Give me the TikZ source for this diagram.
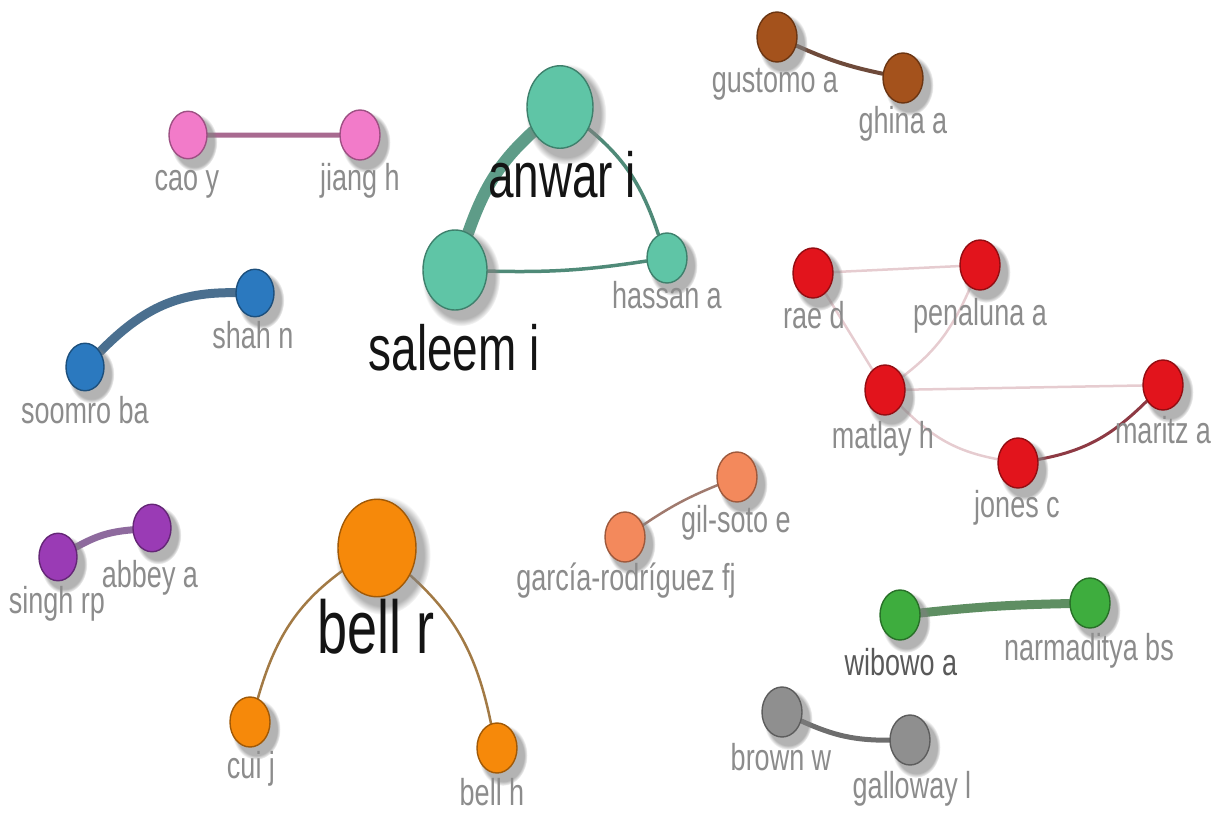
\documentclass[tikz,border=0pt]{standalone}
\usepackage{fontspec}
\setmainfont{Liberation Sans}
\usetikzlibrary{shadows, backgrounds}

\definecolor{cafe}{HTML}{A4521C}
\definecolor{rosa}{HTML}{F27BC9}
\definecolor{verdeagua}{HTML}{5FC5A6}
\definecolor{azul}{HTML}{2B79BF}
\definecolor{morado}{HTML}{9A3BB5}
\definecolor{rojo}{HTML}{E2141C}
\definecolor{salmon}{HTML}{F3895C}
\definecolor{naranja}{HTML}{F6890A}
\definecolor{verde}{HTML}{3EAD3E}
\definecolor{gris}{HTML}{8F8F8F}
\definecolor{textogris}{HTML}{8C8C8C}
% colores de enlaces
\definecolor{e-verdeagua}{HTML}{5E9C88}
\definecolor{e-verdeagua2}{HTML}{4F8A78}
\definecolor{e-rosa}{HTML}{A86A90}
\definecolor{e-azul}{HTML}{4A6F8F}
\definecolor{e-morado}{HTML}{8E6A9E}
\definecolor{e-cafe}{HTML}{6E4A3A}
\definecolor{e-rojoclaro}{HTML}{E6CCD0}
\definecolor{e-rojo}{HTML}{8E3A44}
\definecolor{e-salmon}{HTML}{A07A6E}
\definecolor{e-naranja}{HTML}{A27A45}
\definecolor{e-verde}{HTML}{5E8E62}
\definecolor{e-gris}{HTML}{6E6E6E}

\begin{document}
\begin{tikzpicture}[x=1pt, y=-0.8pt, yscale=1.25,
    autor/.style n args={2}{circle, transform shape, fill=#1, draw=#1!65!black,
        line width=1.4pt, inner sep=0pt, minimum size=#2,
        circular drop shadow={shadow xshift=5pt, shadow yshift=-6pt, shadow scale=1.22, opacity=0.6}},
    etiqueta/.style={transform shape, xscale=0.9, anchor=base, inner sep=0pt,
        text=textogris, font=\fontsize{30}{36}\selectfont},
    etiquetagrande/.style={etiqueta, text=black!92, font=\fontsize{51}{60}\selectfont},
    enlace/.style n args={2}{line width=#1, draw=#2, line cap=round}]
    \useasboundingbox (0,0) rectangle (1220,812);

    % Nodos
    \foreach \n/\x/\y/\c/\r in {gustomo/777/37/cafe/40, ghina/903/78/cafe/40,
        cao/188/135/rosa/38, jiang/360/135/rosa/40,
        anwar/560/107/verdeagua/66, saleem/455/270/verdeagua/64, hassan/667/258/verdeagua/40,
        shah/255/293/azul/38, soomro/85/367/azul/38,
        singh/58/557/morado/38, abbey/152/528/morado/38,
        rae/813/273/rojo/40, penaluna/980/265/rojo/40, matlay/885/390/rojo/40,
        maritz/1163/385/rojo/40, jones/1018/463/rojo/40,
        gilsoto/737/477/salmon/40, garcia/625/537/salmon/40,
        bellr/377/548/naranja/78, cui/250/722/naranja/40, bellh/497/748/naranja/40,
        wibowo/900/615/verde/40, narmaditya/1090/603/verde/40,
        brown/782/712/gris/40, galloway/910/740/gris/40}
        \node[autor={\c}{\r}] (\n) at (\x,\y) {};

    % Enlaces
    \begin{scope}[on background layer]
        \draw[enlace={12pt}{e-verdeagua}] (saleem) to[bend left=15] (anwar);
        \draw[enlace={3.5pt}{e-verdeagua2}] (anwar) to[bend left=17] (hassan);
        \draw[enlace={3.5pt}{e-verdeagua2}] (saleem) to[bend right=4] (hassan);
        \draw[enlace={5pt}{e-rosa}] (cao) -- (jiang);
        \draw[enlace={9pt}{e-azul}] (soomro) to[bend left=20] (shah);
        \draw[enlace={7pt}{e-morado}] (singh) to[bend left=10] (abbey);
        \draw[enlace={4pt}{e-cafe}] (gustomo) to[bend right=5] (ghina);
        \draw[enlace={2.5pt}{e-rojoclaro}] (rae) -- (penaluna);
        \draw[enlace={2.5pt}{e-rojoclaro}] (rae) -- (matlay);
        \draw[enlace={2.5pt}{e-rojoclaro}] (matlay) to[bend right=15] (penaluna);
        \draw[enlace={2.5pt}{e-rojoclaro}] (matlay) -- (maritz);
        \draw[enlace={2.5pt}{e-rojoclaro}] (matlay) to[bend right=15] (jones);
        \draw[enlace={3pt}{e-rojo}] (jones) to[bend right=15] (maritz);
        \draw[enlace={2.5pt}{e-salmon}] (garcia) to[bend left=5] (gilsoto);
        \draw[enlace={2.5pt}{e-naranja}] (bellr) to[bend right=20] (cui);
        \draw[enlace={2.5pt}{e-naranja}] (bellr) to[bend left=20] (bellh);
        \draw[enlace={9pt}{e-verde}] (wibowo) to[bend left=2] (narmaditya);
        \draw[enlace={5pt}{e-gris}] (brown) to[bend right=10] (galloway);
    \end{scope}

    % Etiquetas
    \foreach \n/\x/\y/\t in {gustomo/775/92/gustomo a, ghina/903/133/ghina a,
        cao/187/190/cao y, jiang/360/190/jiang h, hassan/667/308/hassan a,
        shah/253/348/shah n, soomro/85/423/soomro ba,
        singh/57/613/singh rp, abbey/150/587/abbey a,
        rae/814/328/rae d, penaluna/980/325/penaluna a, matlay/883/448/matlay h,
        maritz/1163/443/maritz a, jones/1017/517/jones c,
        gilsoto/736/532/gil-soto e, garcia/626/590/garcía-rodríguez fj,
        cui/251/778/cui j, bellh/492/805/bell h,
        narmaditya/1089/660/narmaditya bs, brown/781/770/brown w, galloway/912/798/galloway l}
        \node[etiqueta] (l-\n) at (\x,\y) {\t};
    \node[etiqueta, text=black!65] (l-wibowo) at (901,675) {wibowo a};
    \node[etiquetagrande] (l-anwar) at (562,197) {anwar i};
    \node[etiquetagrande] (l-saleem) at (454,370) {saleem i};
    \node[etiquetagrande, font=\fontsize{60}{70}\selectfont] (l-bellr) at (376,653) {bell r};
\end{tikzpicture}
\end{document}
